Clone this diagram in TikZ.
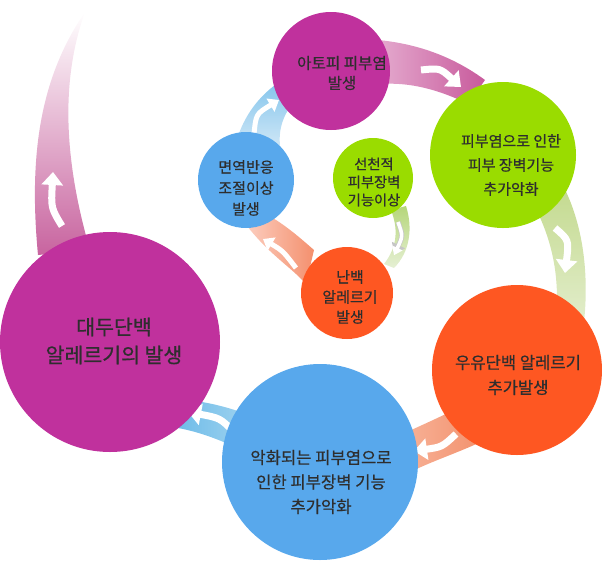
\documentclass[tikz,border=0pt]{standalone}
\usepackage{fontspec}
\setmainfont{Noto Sans CJK KR}[FakeBold=0.6]
\usetikzlibrary{arrows.meta}
\definecolor{mag}{HTML}{C0319D}
\definecolor{grn}{HTML}{9ADC00}
\definecolor{org}{HTML}{FE5722}
\definecolor{blu}{HTML}{58A8EC}
\definecolor{txt}{HTML}{2E2E2E}
\definecolor{bAl}{HTML}{E4AACE}
\definecolor{bAr}{HTML}{C85A9C}
\definecolor{bBt}{HTML}{C2D98C}
\definecolor{bBb}{HTML}{E2EDCB}
\definecolor{bCl}{HTML}{F8B49A}
\definecolor{bCr}{HTML}{F2906C}
\definecolor{bDl}{HTML}{6FBCE8}
\definecolor{bDr}{HTML}{A2D4F0}
\definecolor{bEb}{HTML}{C8649F}
\definecolor{bFt}{HTML}{82C4EC}
\definecolor{bFb}{HTML}{CDE6F6}
\definecolor{bGt}{HTML}{B5D67A}
\definecolor{bGb}{HTML}{E6F0D4}
\definecolor{bHl}{HTML}{FCD0C2}
\definecolor{bHr}{HTML}{F4906E}
\tikzset{
  chev/.style={white, line width=7pt, -{Triangle[width=21pt,length=13pt]}},
  chevs/.style={white, line width=5pt, -{Triangle[width=15pt,length=10pt]}},
  bub/.style={circle, inner sep=0pt, minimum size=#1},
  lab/.style={text=txt, align=center, inner sep=0pt}
}
\begin{document}
\begin{tikzpicture}[x=1pt,y=-1pt]
\useasboundingbox (0,0) rectangle (602,574);
% bands
\shade[left color=bAl, right color=bAr] (378,40) .. controls (420,44) and (455,58) .. (485,80) -- (468,104) .. controls (440,90) and (410,82) .. (382,84) -- cycle;
\shade[top color=bBt, bottom color=bBb] (560,180) .. controls (580,215) and (590,265) .. (584,322) -- (556,322) .. controls (560,275) and (552,240) .. (534,205) -- cycle;
\shade[left color=bCl, right color=bCr] (458,408) .. controls (438,418) and (420,426) .. (398,436) -- (410,472) .. controls (435,460) and (460,452) .. (485,440) -- cycle;
\shade[left color=bDl, right color=bDr] (183,400) .. controls (205,401) and (228,407) .. (252,416) -- (242,450) .. controls (220,440) and (200,432) .. (178,428) -- cycle;
\shade[top color=white, bottom color=bEb] (38,255) .. controls (28,150) and (42,75) .. (85,12) .. controls (66,65) and (58,140) .. (90,250) -- cycle;
\shade[top color=bFt, bottom color=bFb] (236,142) .. controls (244,116) and (258,96) .. (282,80) -- (296,100) .. controls (286,110) and (278,126) .. (280,145) -- cycle;
\shade[top color=bGt, bottom color=bGb] (391,210) .. controls (398,228) and (398,246) .. (384,264) -- (394,268) .. controls (410,252) and (413,228) .. (406,206) -- cycle;
\shade[left color=bHl, right color=bHr] (262,212) .. controls (282,222) and (298,236) .. (314,250) -- (306,284) .. controls (290,266) and (268,254) .. (244,222) -- cycle;
% chevrons
\coordinate (c1a) at (421,70); \coordinate (c1b) at (461,87);
\draw[chev] (c1a) .. controls (440,68) .. (c1b);
\coordinate (c2a) at (555,228); \coordinate (c2b) at (565,273);
\draw[chev] (c2a) .. controls (569,240) .. (c2b);
\coordinate (c3a) at (456,434); \coordinate (c3b) at (414,451);
\draw[chev] (c3a) .. controls (442,447) .. (c3b);
\coordinate (c4a) at (234,432); \coordinate (c4b) at (188,412);
\draw[chev] (c4a) .. controls (220,418) .. (c4b);
\coordinate (c5a) at (62,226); \coordinate (c5b) at (53,172);
\draw[chev] (c5a) .. controls (51,208) .. (c5b);
\coordinate (c6a) at (254,134); \coordinate (c6b) at (279,100);
\draw[chevs] (c6a) .. controls (256,114) .. (c6b);
\coordinate (c7a) at (398,222); \coordinate (c7b) at (394,254);
\draw[gray!45, line width=5pt, -{Triangle[width=14pt,length=10pt]}] (c7a) .. controls (403,236) .. (c7b);
\draw[white, line width=3.6pt, -{Triangle[width=11pt,length=8pt]}] (c7a) .. controls (403,236) .. ([yshift=-1.2pt]c7b);
\coordinate (c8a) at (296,268); \coordinate (c8b) at (263,239);
\draw[chevs] (c8a) .. controls (283,251) .. (c8b);
% circles
\node[bub=118pt, fill=mag] (atopy) at (331,71) {};
\node[bub=146pt, fill=grn] (barrier) at (503,155) {};
\node[bub=170pt, fill=org] (milk) at (517,370) {};
\node[bub=196pt, fill=blu] (worse) at (320,462) {};
\node[bub=220pt, fill=mag] (soy) at (110,342) {};
\node[bub=96pt, fill=blu] (immune) at (246,180) {};
\node[bub=80pt, fill=grn] (innate) at (373,178) {};
\node[bub=92pt, fill=org] (egg) at (347,293) {};
% labels
\node[lab, font=\fontsize{15.6}{20}\selectfont] (tA) at (342,73) {아토피 피부염\\발생};
\node[lab, font=\fontsize{15}{24}\selectfont] (tB) at (511,165) {피부염으로 인한\\피부 장벽기능\\추가악화};
\node[lab, font=\fontsize{16.6}{25}\selectfont] (tC) at (518,375) {우유단백 알레르기\\추가발생};
\node[lab, font=\fontsize{16.6}{24.5}\selectfont] (tD) at (321,482) {악화되는 피부염으로\\인한 피부장벽 기능\\추가악화};
\node[lab, font=\fontsize{20.5}{28}\selectfont] (tE) at (114,341) {대두단백\\알레르기의 발생};
\node[lab, font=\fontsize{15}{21}\selectfont] (tF) at (246,188) {면역반응\\조절이상\\발생};
\node[lab, font=\fontsize{14.3}{18}\selectfont] (tG) at (374,182) {선천적\\피부장벽\\기능이상};
\node[lab, font=\fontsize{15}{20}\selectfont] (tH) at (350,297) {난백\\알레르기\\발생};
\end{tikzpicture}
\end{document}
